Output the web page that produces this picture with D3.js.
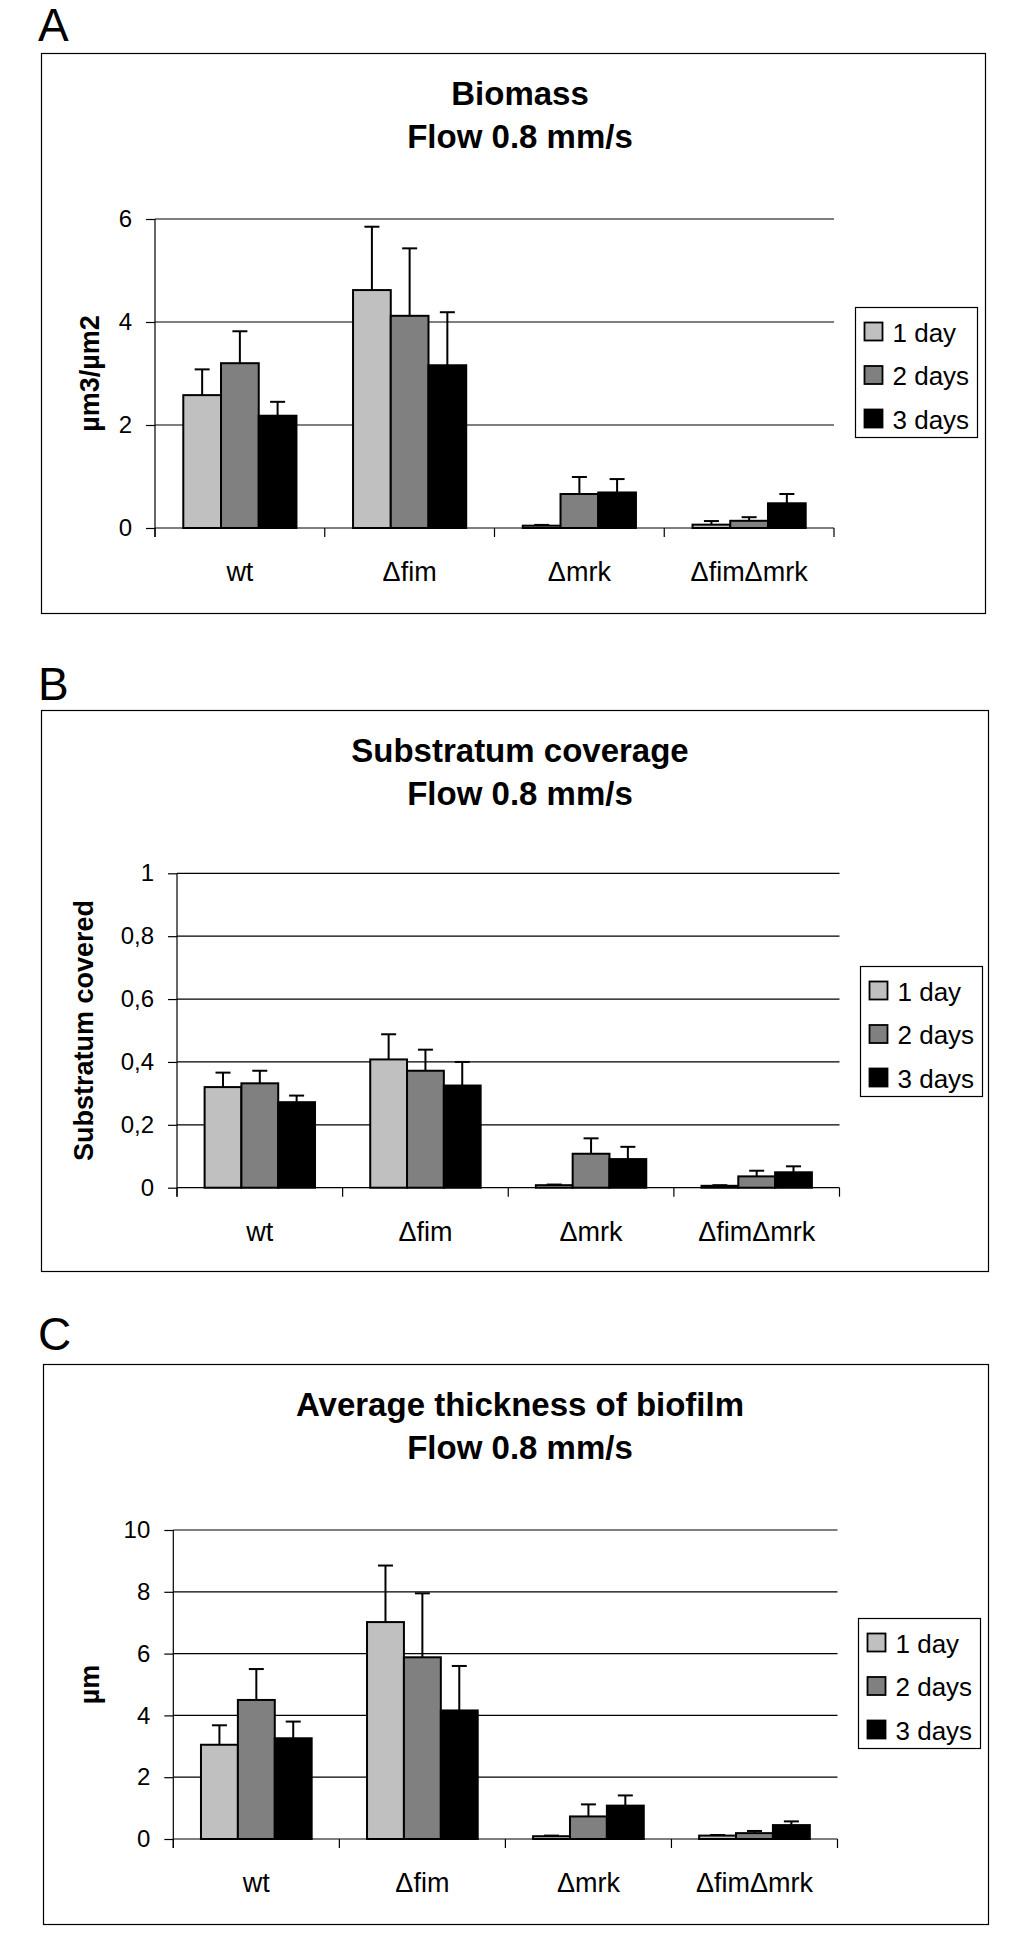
<!DOCTYPE html>
<html>
<head>
<meta charset="utf-8">
<script src="https://cdn.jsdelivr.net/npm/d3@7"></script>
<style>
  html, body { margin: 0; padding: 0; background: #fff; }
  svg text { font-family: "Liberation Sans", Arial, sans-serif; fill: #000; }
</style>
</head>
<body>
<svg id="chart" width="1014" height="1943"></svg>
<script>
// ---------- DATA ----------
const categories = ["wt", "\u0394fim", "\u0394mrk", "\u0394fim\u0394mrk"];
const seriesNames = ["1 day", "2 days", "3 days"];
const seriesColors = ["#c0c0c0", "#808080", "#000000"];

// Panel A: Biomass (µm3/µm2)
const biomass1day = [2.58, 4.62, 0.045, 0.065];
const biomass2days = [3.20, 4.12, 0.66, 0.14];
const biomass3days = [2.18, 3.16, 0.69, 0.48];
const biomassErr1day = [0.50, 1.23, 0.015, 0.07];
const biomassErr2days = [0.62, 1.31, 0.33, 0.07];
const biomassErr3days = [0.27, 1.03, 0.26, 0.18];
const biomassTicks = [0, 2, 4, 6];

// Panel B: Substratum coverage
const coverage1day = [0.320, 0.408, 0.008, 0.006];
const coverage2days = [0.332, 0.372, 0.108, 0.036];
const coverage3days = [0.272, 0.325, 0.091, 0.049];
const coverageErr1day = [0.046, 0.080, 0.002, 0.002];
const coverageErr2days = [0.040, 0.067, 0.049, 0.018];
const coverageErr3days = [0.021, 0.075, 0.039, 0.019];
const coverageTicks = [0, 0.2, 0.4, 0.6, 0.8, 1];

// Panel C: Average thickness (µm)
const thickness1day = [3.05, 7.02, 0.09, 0.11];
const thickness2days = [4.50, 5.88, 0.73, 0.19];
const thickness3days = [3.26, 4.16, 1.08, 0.45];
const thicknessErr1day = [0.63, 1.83, 0.02, 0.02];
const thicknessErr2days = [1.00, 2.07, 0.39, 0.07];
const thicknessErr3days = [0.54, 1.44, 0.33, 0.12];
const thicknessTicks = [0, 2, 4, 6, 8, 10];

// ---------- DRAWING ----------
const svg = d3.select("#chart");
const fmt = v => String(v).replace(".", ",");

function drawPanel(p) {
  const g = svg.append("g");

  // Panel letter
  g.append("text").attr("x", 38).attr("y", p.letterY)
    .attr("font-size", 46).text(p.letter);

  // Frame
  g.append("rect")
    .attr("x", p.frame[0] + 0.5).attr("y", p.frame[1] + 0.5)
    .attr("width", p.frame[2] - p.frame[0]).attr("height", p.frame[3] - p.frame[1])
    .attr("fill", "#fff").attr("stroke", "#000").attr("stroke-width", 1.2);

  // Title
  p.title.forEach((t, i) => {
    g.append("text").attr("x", 520).attr("y", p.frame[1] + 52 + i * 43)
      .attr("text-anchor", "middle").attr("font-size", 33).attr("font-weight", "bold")
      .text(t);
  });

  const x0 = d3.scaleBand().domain(categories).range([p.left, p.right]).paddingInner(0).paddingOuter(0);
  const x1 = d3.scaleBand().domain(seriesNames).range([0, x0.bandwidth()]).paddingInner(0).paddingOuter(0.75);
  const y = d3.scaleLinear().domain([0, p.ticks[p.ticks.length - 1]]).range([p.bottom, p.top]);

  // Gridlines + y ticks
  const yAxis = d3.axisLeft(y).tickValues(p.ticks).tickFormat(fmt).tickSize(9).tickPadding(14);
  const ya = g.append("g").attr("transform", `translate(${p.left},0)`).call(yAxis);
  ya.select(".domain").remove();
  ya.selectAll(".tick line").attr("stroke", "#000").attr("stroke-width", 1.2);
  ya.selectAll(".tick text").attr("font-size", 24).attr("font-family", "'Liberation Sans', Arial, sans-serif");
  g.append("g").selectAll("line").data(p.ticks).join("line")
    .attr("x1", p.left).attr("x2", p.right)
    .attr("y1", d => y(d)).attr("y2", d => y(d))
    .attr("stroke", "#000").attr("stroke-width", 1.2);

  // Y axis line
  g.append("line").attr("x1", p.left).attr("x2", p.left)
    .attr("y1", p.top).attr("y2", p.bottom + 9)
    .attr("stroke", "#000").attr("stroke-width", 1.2);

  // Category boundary ticks
  const bounds = categories.map(c => x0(c)).concat([x0(categories[categories.length - 1]) + x0.bandwidth()]);
  g.append("g").selectAll("line").data(bounds).join("line")
    .attr("x1", d => d).attr("x2", d => d)
    .attr("y1", p.bottom).attr("y2", p.bottom + 9)
    .attr("stroke", "#000").attr("stroke-width", 1.2);

  // Category labels
  g.append("g").selectAll("text").data(categories).join("text")
    .attr("x", d => x0(d) + x0.bandwidth() / 2).attr("y", p.bottom + 53)
    .attr("text-anchor", "middle").attr("font-size", 27).text(d => d);

  // Y title
  g.append("text")
    .attr("transform", `translate(${p.ytitleX},${(p.top + p.bottom) / 2}) rotate(-90)`)
    .attr("text-anchor", "middle").attr("font-size", 27).attr("font-weight", "bold")
    .text(p.ytitle);

  // Bars & error bars
  const rows = [];
  categories.forEach((c, ci) => {
    seriesNames.forEach((s, si) => {
      rows.push({ c, s, si, v: p.values[si][ci], e: p.errors[si][ci] });
    });
  });
  const bw = x1.bandwidth();
  // error bars first (behind bar top)
  const eg = g.append("g");
  rows.forEach(r => {
    const cx = x0(r.c) + x1(r.s) + bw / 2;
    eg.append("line").attr("x1", cx).attr("x2", cx)
      .attr("y1", y(r.v)).attr("y2", y(r.v + r.e))
      .attr("stroke", "#000").attr("stroke-width", 2);
    eg.append("line").attr("x1", cx - 7.5).attr("x2", cx + 7.5)
      .attr("y1", y(r.v + r.e)).attr("y2", y(r.v + r.e))
      .attr("stroke", "#000").attr("stroke-width", 2);
  });
  g.append("g").selectAll("rect").data(rows).join("rect")
    .attr("x", d => x0(d.c) + x1(d.s))
    .attr("y", d => y(d.v))
    .attr("width", bw)
    .attr("height", d => y(0) - y(d.v))
    .attr("fill", d => seriesColors[d.si])
    .attr("stroke", "#000").attr("stroke-width", 2);

  // Legend
  const lg = g.append("g").attr("transform", `translate(${p.legend[0]},${p.legend[1]})`);
  lg.append("rect").attr("x", 0.5).attr("y", 0.5).attr("width", 122).attr("height", 130)
    .attr("fill", "#fff").attr("stroke", "#000").attr("stroke-width", 1.2);
  seriesNames.forEach((s, i) => {
    lg.append("rect").attr("x", 9.5).attr("y", 15.5 + i * 43.5).attr("width", 18).attr("height", 18)
      .attr("fill", seriesColors[i]).attr("stroke", "#000").attr("stroke-width", 1.8);
    lg.append("text").attr("x", 37.5).attr("y", 34.5 + i * 43.5)
      .attr("font-size", 26).text(s);
  });
}

drawPanel({
  letter: "A", letterY: 41,
  frame: [41, 53, 985, 613],
  title: ["Biomass", "Flow 0.8 mm/s"],
  left: 155, right: 834, top: 219, bottom: 528,
  ticks: biomassTicks,
  ytitle: "\u00b5m3/\u00b5m2", ytitleX: 99,
  values: [biomass1day, biomass2days, biomass3days],
  errors: [biomassErr1day, biomassErr2days, biomassErr3days],
  legend: [855, 307]
});

drawPanel({
  letter: "B", letterY: 699.5,
  frame: [41, 710, 988, 1271],
  title: ["Substratum coverage", "Flow 0.8 mm/s"],
  left: 177, right: 839.5, top: 873.3, bottom: 1187.7,
  ticks: coverageTicks,
  ytitle: "Substratum covered", ytitleX: 93,
  values: [coverage1day, coverage2days, coverage3days],
  errors: [coverageErr1day, coverageErr2days, coverageErr3days],
  legend: [860, 966]
});

drawPanel({
  letter: "C", letterY: 1350,
  frame: [43, 1364, 988, 1924],
  title: ["Average thickness of biofilm", "Flow 0.8 mm/s"],
  left: 173.3, right: 837.5, top: 1530, bottom: 1839,
  ticks: thicknessTicks,
  ytitle: "\u00b5m", ytitleX: 99,
  values: [thickness1day, thickness2days, thickness3days],
  errors: [thicknessErr1day, thicknessErr2days, thicknessErr3days],
  legend: [858, 1618]
});
</script>
</body>
</html>
